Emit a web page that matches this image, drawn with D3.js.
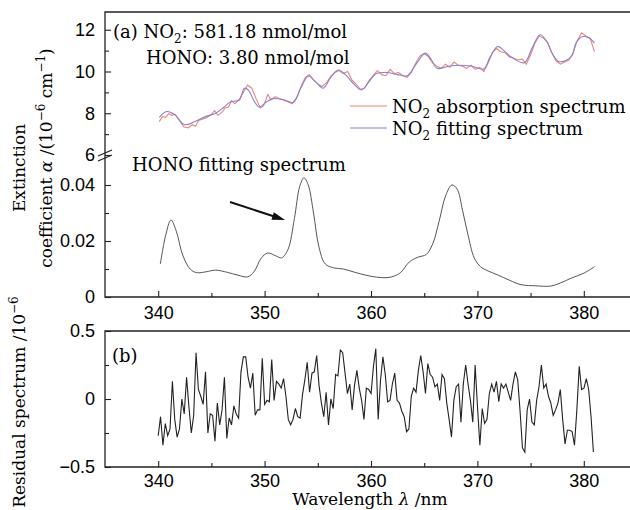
<!DOCTYPE html>
<html>
<head>
<meta charset="utf-8">
<script src="https://d3js.org/d3.v7.min.js"></script>
<style>
body { margin: 0; background: #fff; }
svg { font-family: "DejaVu Serif", serif; }
.axis text { font-size: 18px; fill: #000; }
.axis line { stroke: #222; stroke-width: 1.1; }
.axis path { display: none; }
.frame { stroke: #222; stroke-width: 1.3; fill: none; }
.note { font-size: 18px; fill: #000; }
.title { font-size: 17px; fill: #000; }
</style>
</head>
<body>
<script>

// (a) NO2 absorption spectrum [wavelength nm, 10^-6 cm^-1]
var no2Absorption = [
  [340.1,7.60],[340.4,7.85],[340.7,7.80],[341.0,7.98],[341.3,7.90],[341.6,7.95],[342.0,7.65],[342.4,7.35],
  [342.8,7.30],[343.2,7.45],[343.5,7.38],[343.8,7.65],[344.2,7.72],[344.6,7.80],[345.0,7.95],[345.3,8.12],
  [345.6,7.90],[346.0,8.05],[346.3,8.25],[346.6,8.30],[346.9,8.60],[347.2,8.45],[347.6,8.65],[348.0,9.00],
  [348.4,9.35],[348.8,9.20],[349.2,8.70],[349.6,8.25],[349.9,8.35],[350.3,8.90],[350.6,8.65],[351.0,8.80],
  [351.4,8.70],[351.8,8.62],[352.2,8.55],[352.6,8.45],[353.0,8.75],[353.4,9.25],[353.8,9.70],[354.2,9.85],
  [354.6,9.60],[355.0,9.40],[355.4,9.28],[355.8,9.45],[356.2,9.75],[356.6,9.95],[357.0,10.05],[357.4,9.90],
  [357.8,10.00],[358.2,9.60],[358.6,9.40],[359.0,9.15],[359.4,9.20],[359.8,9.55],[360.2,9.80],[360.6,10.05],
  [361.0,9.85],[361.4,9.80],[361.8,10.10],[362.2,9.90],[362.6,9.95],[363.0,9.80],[363.4,9.72],[363.8,9.95],
  [364.2,10.40],[364.6,10.75],[365.0,10.85],[365.4,10.70],[365.8,10.40],[366.2,10.25],[366.6,10.15],[367.0,10.35],
  [367.4,10.20],[367.8,10.45],[368.2,10.30],[368.6,10.25],[369.0,10.15],[369.4,10.30],[369.8,10.10],[370.2,10.20],
  [370.6,10.00],[371.0,10.40],[371.4,10.90],[371.8,11.10],[372.2,10.95],[372.6,10.90],[373.0,10.70],[373.4,10.65],
  [373.8,10.55],[374.2,10.60],[374.6,10.35],[375.0,10.80],[375.4,11.35],[375.8,11.70],[376.2,11.60],[376.6,11.40],
  [377.0,10.90],[377.4,10.50],[377.8,10.35],[378.2,10.45],[378.6,10.55],[379.0,10.90],[379.4,11.50],[379.8,11.85],
  [380.2,11.70],[380.6,11.60],[381.0,10.95]
];

// (a) NO2 fitting spectrum
var no2Fit = [
  [340.1,7.80],[340.8,8.08],[341.5,7.95],[342.5,7.45],[343.5,7.62],[344.5,7.85],[345.4,8.00],[346.2,8.30],
  [346.8,8.55],[347.6,8.62],[348.1,9.20],[348.5,9.10],[349.0,8.60],[349.5,8.30],[350.2,8.55],[350.8,8.70],
  [351.8,8.65],[352.7,8.52],[353.4,9.20],[354.1,9.78],[354.8,9.50],[355.5,9.20],[356.2,9.70],[356.9,10.07],
  [357.6,9.85],[358.3,9.45],[359.1,9.12],[359.8,9.50],[360.5,9.90],[361.5,9.95],[362.5,9.85],[363.4,9.80],
  [364.3,10.40],[365.1,10.88],[365.7,10.55],[366.2,10.15],[367.3,10.25],[368.4,10.30],[369.5,10.25],[370.6,10.12],
  [371.2,10.70],[371.9,11.20],[372.5,11.00],[373.1,10.72],[374.4,10.42],[375.2,11.20],[375.9,11.76],[376.5,11.45],
  [377.1,10.80],[377.7,10.47],[378.8,10.70],[379.3,11.40],[379.9,11.68],[380.5,11.60],[381.0,11.36]
];

// HONO fitting spectrum
var honoFit = [
  [340.2,0.0118],[340.7,0.0220],[341.2,0.0275],[341.7,0.0235],[342.3,0.0150],[343.0,0.0100],[343.6,0.0087],
  [344.5,0.0090],[345.4,0.0096],[346.5,0.0088],[347.5,0.0078],[348.4,0.0072],[349.0,0.0090],[349.7,0.0140],
  [350.3,0.0157],[351.0,0.0148],[351.6,0.0140],[352.2,0.0170],[352.8,0.0280],[353.3,0.0395],[353.7,0.0426],
  [354.1,0.0400],[354.6,0.0300],[355.1,0.0180],[355.7,0.0118],[356.5,0.0104],[357.4,0.0100],[358.5,0.0088],
  [359.5,0.0078],[360.5,0.0071],[361.5,0.0069],[362.2,0.0075],[362.8,0.0088],[363.6,0.0125],[364.4,0.0142],
  [365.2,0.0152],[365.8,0.0190],[366.4,0.0270],[367.0,0.0360],[367.6,0.0400],[368.1,0.0385],[368.6,0.0310],
  [369.1,0.0225],[369.7,0.0140],[370.3,0.0108],[371.0,0.0093],[371.9,0.0079],[373.0,0.0060],[374.1,0.0044],
  [375.5,0.0040],[376.9,0.0039],[377.8,0.0050],[378.8,0.0067],[380.0,0.0085],[381.0,0.0108]
];

// (b) residual spectrum, evenly spaced samples from resStart
var resStart = 340.0, resStep = 0.2223;
var residual = [
  -0.27,-0.13,-0.34,-0.18,-0.27,-0.22,0.13,-0.15,-0.28,-0.22,
  0.00,-0.11,0.16,-0.06,-0.25,-0.12,0.34,0.07,0.02,-0.04,
  0.20,-0.25,-0.11,-0.12,-0.31,-0.03,-0.19,-0.08,0.16,-0.29,
  -0.14,-0.19,-0.05,-0.11,-0.14,0.20,0.31,0.31,0.16,0.08,
  0.19,-0.12,-0.08,-0.08,0.30,-0.04,-0.01,-0.02,0.29,-0.01,
  0.13,0.11,0.08,0.15,0.02,-0.15,-0.19,-0.15,-0.07,-0.13,
  -0.14,0.03,0.14,0.27,0.05,0.19,0.20,0.32,0.10,-0.03,
  -0.13,0.05,-0.19,0.00,-0.07,0.18,0.17,0.36,0.34,0.19,
  0.04,0.11,-0.08,
  0.10,0.21,0.08,-0.01,-0.15,0.08,0.07,0.04,0.24,0.37,
  -0.15,0.14,0.31,0.18,-0.02,-0.01,0.11,0.19,-0.01,-0.03,
  -0.09,-0.13,-0.24,-0.22,0.02,0.08,0.05,0.21,0.32,0.20,
  0.04,0.26,0.18,0.16,0.09,0.11,-0.01,0.18,0.15,-0.03,
  -0.15,-0.28,-0.01,0.09,0.11,-0.17,0.11,0.25,0.11,-0.01,
  -0.17,0.25,-0.06,-0.34,-0.07,-0.18,-0.15,0.04,0.11,0.05,
  0.13,-0.02,0.11,0.08,0.11,0.05,-0.01,0.11,0.20,0.14,
  -0.09,-0.36,-0.39,-0.08,0.00,-0.17,-0.19,-0.01,0.09,0.25,
  0.08,0.11,0.02,-0.03,-0.12,-0.08,-0.03,0.07,-0.15,-0.33,
  -0.23,-0.23,-0.24,-0.34,-0.08,0.24,0.07,0.08,0.15,0.07,
  -0.13,-0.39
];

var xTicks = [340, 350, 360, 370, 380], xMinor = [345, 355, 365, 375];
var topTicks = [6, 8, 10, 12], topMinor = [7, 9, 11];
var midTicks = [0, 0.02, 0.04], midMinor = [0.01, 0.03];
var resTicks = [-0.5, 0, 0.5], resMinor = [-0.25, 0.25];

var width = 630, height = 510;

var svg = d3.select("body").append("svg")
    .attr("width", width)
    .attr("height", height);

var x = d3.scaleLinear().domain([335, 385]).range([105, 637]);
var yTop = d3.scaleLinear().domain([6, 12.85]).range([155, 12]);
var yMid = d3.scaleLinear().domain([0, 0.05]).range([297, 157]);
var yRes = d3.scaleLinear().domain([-0.5, 0.5]).range([467, 331]);

function fmt(d) { return d < 0 ? "\u2212" + Math.abs(d) : String(d); }

function leftAxis(scale, major, minor) {
    svg.append("g").attr("class", "axis").attr("transform", "translate(105,0)")
       .call(d3.axisLeft(scale).tickValues(major).tickFormat(fmt).tickSize(-6).tickPadding(10));
    svg.append("g").attr("class", "axis").attr("transform", "translate(105,0)")
       .call(d3.axisLeft(scale).tickValues(minor).tickFormat("").tickSize(-4));
}

function bottomAxis(y0, pad) {
    svg.append("g").attr("class", "axis").attr("transform", "translate(0," + y0 + ")")
       .call(d3.axisBottom(x).tickValues(xTicks).tickSize(-6).tickPadding(pad));
    svg.append("g").attr("class", "axis").attr("transform", "translate(0," + y0 + ")")
       .call(d3.axisBottom(x).tickValues(xMinor).tickFormat("").tickSize(-4));
}

leftAxis(yTop, topTicks, topMinor);
leftAxis(yMid, midTicks, midMinor);
leftAxis(yRes, resTicks, resMinor);
bottomAxis(yMid(0), 9);
bottomAxis(yRes(-0.5), 7);

// frames (right side runs off the picture)
var frame = svg.append("g").attr("class", "frame");
frame.append("path").attr("d", "M630," + yTop.range()[1] + "H105V" + yMid(0) + "H630");
frame.append("path").attr("d", "M630," + yRes(0.5) + "H105V" + yRes(-0.5) + "H630");

// axis break marks
var by = yTop(6);
frame.append("path").attr("d", "M98," + (by + 1) + "L112," + (by - 5));
frame.append("path").attr("d", "M98," + (by + 6) + "L112," + (by));

// series
var lineTop = d3.line().x(function(d) { return x(d[0]) }).y(function(d) { return yTop(d[1]) });

svg.append("path").datum(no2Absorption)
    .attr("d", lineTop)
    .style("fill", "none").style("stroke", "#ea8676").style("stroke-width", 1.1);

svg.append("path").datum(no2Fit)
    .attr("d", lineTop.curve(d3.curveCatmullRom))
    .style("fill", "none").style("stroke", "#8581d4").style("stroke-width", 1.1);

svg.append("path").datum(honoFit)
    .attr("d", d3.line().curve(d3.curveCatmullRom)
        .x(function(d) { return x(d[0]) }).y(function(d) { return yMid(d[1]) }))
    .style("fill", "none").style("stroke", "#555").style("stroke-width", 1);

svg.append("path").datum(residual)
    .attr("d", d3.line()
        .x(function(d, i) { return x(resStart + i * resStep) }).y(function(d) { return yRes(d) }))
    .style("fill", "none").style("stroke", "#222").style("stroke-width", 1.1);

// notes
function sub(t, s) {
    t.append("tspan").attr("dy", 5).style("font-size", "12px").text(s);
    return t.append("tspan").attr("dy", -5);
}
function sup(t, s) {
    t.append("tspan").attr("dy", -7).style("font-size", "12px").text(s);
    return t.append("tspan").attr("dy", 7);
}

var t = svg.append("text").attr("class", "note").attr("x", 113).attr("y", 38).text("(a) NO");
sub(t, "2").text(": 581.18 nmol/mol");
svg.append("text").attr("class", "note").attr("x", 146).attr("y", 64).text("HONO: 3.80 nmol/mol");
svg.append("text").attr("class", "note").attr("x", 132).attr("y", 171).text("HONO fitting spectrum");
svg.append("text").attr("class", "note").attr("x", 112).attr("y", 362).text("(b)");

// legend
var legend = [["absorption spectrum", "#ea8676"], ["fitting spectrum", "#8581d4"]];
legend.forEach(function(l, i) {
    var ly = 106 + i * 22;
    svg.append("line").attr("x1", 350).attr("x2", 387).attr("y1", ly).attr("y2", ly)
       .style("stroke", l[1]).style("stroke-width", 1.1);
    var lt = svg.append("text").attr("class", "note").attr("x", 392).attr("y", ly + 7).text("NO");
    sub(lt, "2").text(" " + l[0]);
});

// arrow
var a0 = [230, 202], a1 = [285, 220];
var ang = Math.atan2(a1[1] - a0[1], a1[0] - a0[0]);
svg.append("line").attr("x1", a0[0]).attr("y1", a0[1])
   .attr("x2", a1[0] - 8 * Math.cos(ang)).attr("y2", a1[1] - 8 * Math.sin(ang))
   .style("stroke", "#111").style("stroke-width", 2);
svg.append("path")
   .attr("d", "M0,0L-13,-4L-13,4Z")
   .attr("transform", "translate(" + a1[0] + "," + a1[1] + ") rotate(" + ang * 180 / Math.PI + ")")
   .style("fill", "#111");

// axis titles
var t1 = svg.append("text").attr("class", "title").attr("text-anchor", "middle")
   .attr("transform", "translate(25,168) rotate(-90)").text("Extinction");
var t2 = svg.append("text").attr("class", "title").attr("text-anchor", "middle")
   .attr("transform", "translate(52,158) rotate(-90)").text("coefficient ");
t2.append("tspan").style("font-style", "italic").text("\u03b1");
var r = sup(t2.append("tspan").text(" /(10"), "\u22126");
r.text(" cm");
sup(t2, "\u22121").text(")");

var t3 = svg.append("text").attr("class", "title").attr("text-anchor", "middle")
   .attr("transform", "translate(25,402) rotate(-90)").text("Residual spectrum /10");
sup(t3, "\u22126");

var t4 = svg.append("text").attr("class", "title").attr("text-anchor", "middle")
   .attr("x", 370).attr("y", 505).text("Wavelength ");
t4.append("tspan").style("font-style", "italic").text("\u03bb");
t4.append("tspan").text(" /nm");

</script>
</body>
</html>
